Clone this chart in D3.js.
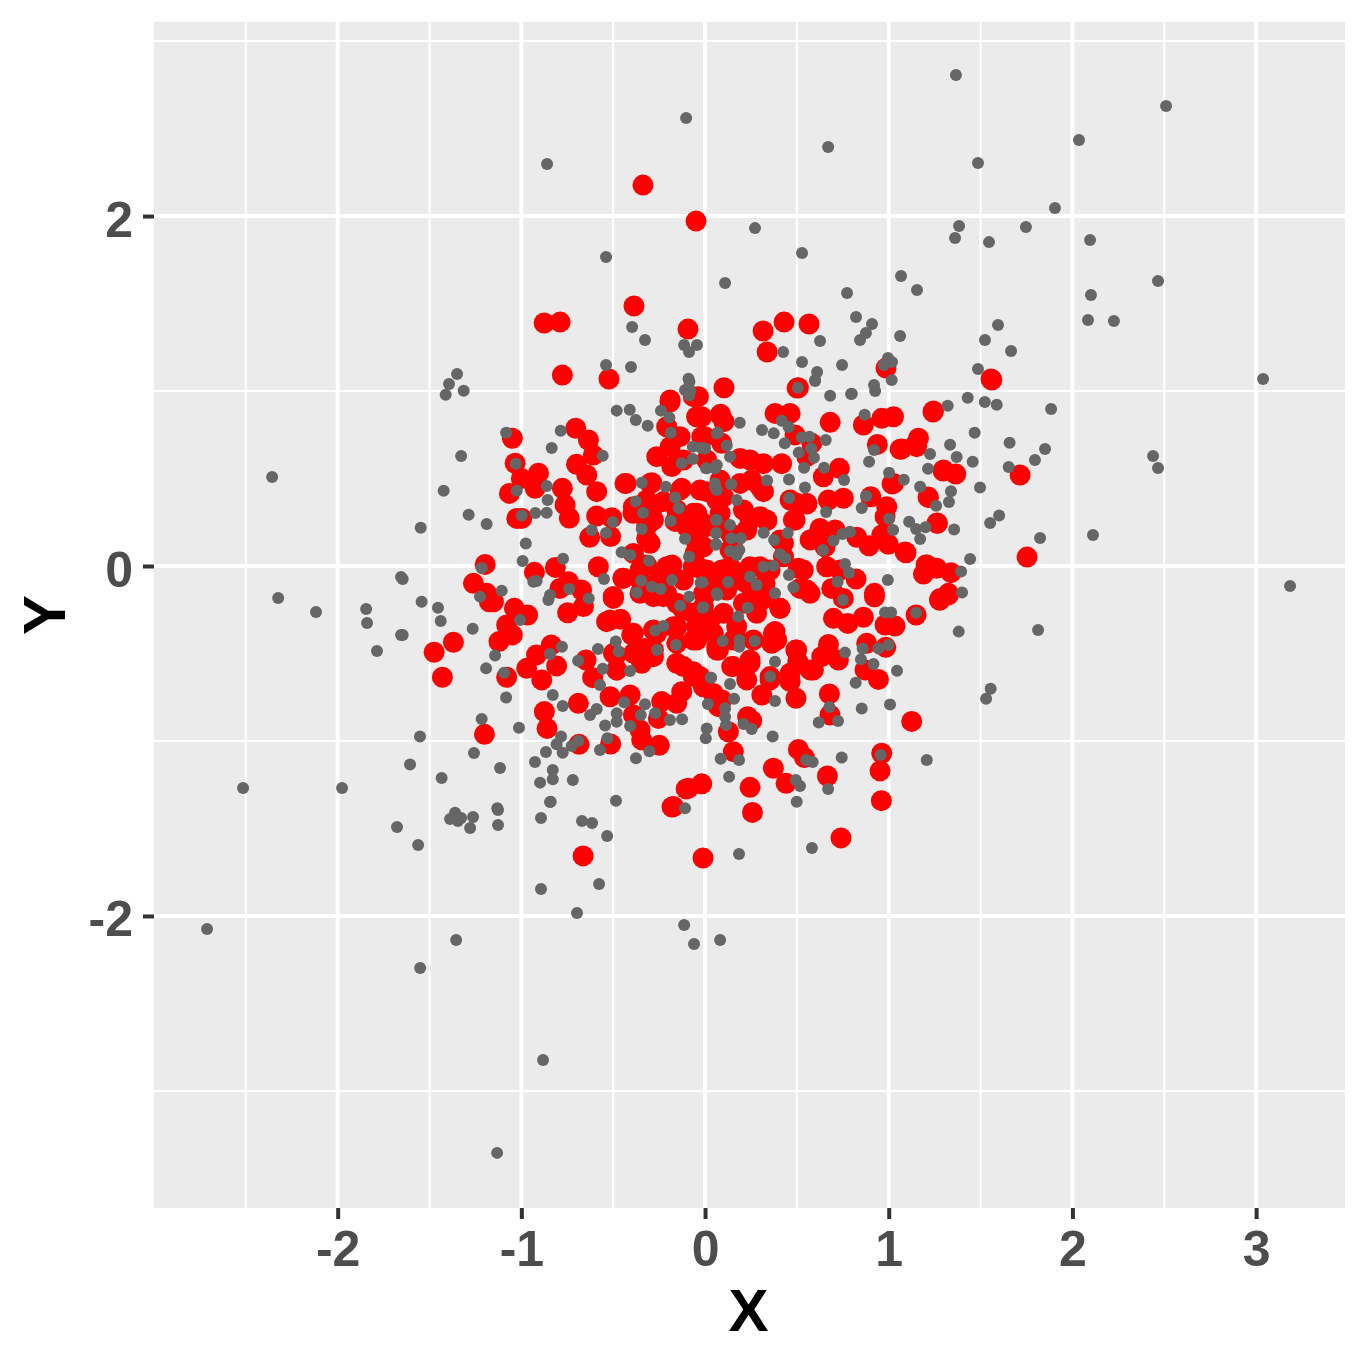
<!DOCTYPE html>
<html><head><meta charset="utf-8">
<script src="https://cdn.jsdelivr.net/npm/d3@7/dist/d3.min.js"></script>
<style>html,body{margin:0;padding:0;background:#fff}svg{display:block}</style>
</head><body><svg id="c" width="1368" height="1365"></svg>
<script>
const xMajor=[-2,-1,0,1,2,3];
const xMinor=[-2.5,-1.5,-0.5,0.5,1.5,2.5];
const yMajor=[-2,0,2];
const yMinor=[-3,-1,1,3];
const xTitle="X", yTitle="Y";
const redPoints=[[-0.777,1.091],[-0.523,1.069],[-1.049,0.73],[-1.034,0.587],[-0.907,0.53],[-1,0.5],[-1.065,0.415],[-0.925,0.444],[-0.704,0.787],[-0.635,0.72],[-0.608,0.634],[-0.7,0.581],[-0.644,0.52],[-0.59,0.425],[-0.777,0.444],[-0.762,0.349],[-0.739,0.274],[-1.025,0.272],[-0.998,0.272],[-0.59,0.286],[-0.508,0.276],[-0.628,0.164],[-0.514,0.168],[-1.197,0.009],[-0.929,-0.036],[-0.815,-0.008],[-0.744,-0.09],[-0.581,-0.004],[-0.672,-0.137],[-0.79,-0.128],[-1.261,-0.099],[-1.189,-0.156],[-1.152,-0.204],[-0.448,-0.07],[-0.5,-0.175],[-0.19,0.949],[-0.064,0.968],[-0.046,0.853],[-0.209,0.796],[0.082,0.863],[-0.263,0.625],[-0.19,0.682],[-0.136,0.739],[-0.018,0.739],[-0.181,0.568],[-0.118,0.606],[-0.43,0.472],[-0.29,0.476],[-0.127,0.444],[-0.318,0.377],[-0.227,0.368],[-0.392,0.301],[-0.281,0.263],[-0.318,0.158],[-0.163,0.255],[-0.064,0.301],[0.009,0.425],[-0.064,0.177],[-0.054,0.074],[-0.027,-0.013],[-0.39,0.072],[-0.318,0.006],[-0.18,0.006],[-0.245,-0.061],[-0.354,-0.08],[-0.118,-0.08],[0.064,-0.061],[-0.209,-0.156],[-0.354,-0.156],[0.009,-0.156],
[0.103,1.019],[0.508,1.019],[-0.036,0.968],[0.085,0.867],[0.103,0.825],[0.381,0.872],[0.463,0.872],[0.681,0.821],[1.561,1.063],[1.243,0.886],[0.862,0.806],[0.962,0.844],[1.026,0.853],[0.938,0.695],[1.062,0.667],[1.162,0.73],[1.152,0.682],[1.298,0.549],[1.365,0.526],[1.026,0.472],[1.216,0.392],[1.265,0.244],[1.715,0.52],[0.49,0.749],[0.581,0.701],[0.554,0.625],[-0.018,0.853],[0,0.739],[0.091,0.701],[0.009,0.606],[0.191,0.615],[0.245,0.606],[0.318,0.585],[0.417,0.585],[0.254,0.491],[0.318,0.425],[0.082,0.491],[0.1,0.396],[0.209,0.32],[0.299,0.282],[0.336,0.259],[0.463,0.377],[0.554,0.354],[0.49,0.263],[0.731,0.558],[0.644,0.51],[0.753,0.387],[0.671,0.377],[0.902,0.396],[0.989,0.339],[0.98,0.282],[0.626,0.215],[0.708,0.206],[0.581,0.152],[0.826,0.164],[0.893,0.116],[0.998,0.124],[1.094,0.076],[0.962,0.177],[1.207,0.006],[1.189,-0.046],[1.261,-0.013],[1.339,-0.038],[1.325,-0.156],[1.28,-0.185],[0.922,-0.156],[0.822,-0.074],[0.662,-0.004],[0.735,-0.023],[0.653,0.11],[0.508,-0.013],[0.517,-0.128],[0.69,-0.128],[0.427,0.13],[0.427,0.053],[0.299,-0.004],[0.327,-0.099],[0.154,0.149],[0.091,-0.023],[0.009,-0.023],[0.191,-0.08],[0.118,-0.137],[-0.009,-0.156],[0.082,0.244],[-0.009,0.244],[-0.009,0.11],[0.263,-0.156],[0.336,-0.156],
[-1.174,-0.204],[-1.038,-0.242],[-0.966,-0.28],[-1.08,-0.337],[-1.049,-0.394],[-1.122,-0.432],[-1.37,-0.436],[-1.475,-0.493],[-1.43,-0.636],[-1.08,-0.636],[-0.971,-0.585],[-0.918,-0.508],[-0.837,-0.451],[-0.808,-0.571],[-0.889,-0.651],[-0.748,-0.267],[-0.662,-0.232],[-0.499,-0.185],[-0.536,-0.318],[-0.459,-0.305],[-0.648,-0.537],[-0.612,-0.638],[-0.484,-0.509],[-0.481,-0.594],[-0.399,-0.394],[-0.345,-0.556],[-0.327,-0.471],[-0.517,-0.747],[-0.408,-0.737],[-0.69,-0.785],[-0.875,-0.832],[-0.86,-0.928],[-1.201,-0.962],[-0.686,-1.019],[-0.514,-1.017],[-0.39,-0.851],[-0.354,-0.937],[-0.345,-0.994],[-0.249,-1.025],[-0.254,-0.871],[-0.236,-0.775],[-0.154,-0.785],[-0.127,-0.718],[-0.064,-0.604],[-0.154,-0.556],[-0.263,-0.385],[-0.281,-0.518],[-0.154,-0.347],[-0.064,-0.423],[0.064,-0.461],[0.027,-0.308],[-0.064,-0.27],[-0.154,-0.213],[-0.281,-0.175],[-0.027,-0.632],[0.045,-0.728],[0.073,-0.804],[-0.018,-1.245],[-0.091,-1.27],[-0.172,-1.375],
[0.922,-0.176],[1.276,-0.194],[1.325,-0.165],[1.149,-0.28],[0.862,-0.293],[1.034,-0.343],[0.98,-0.337],[0.777,-0.328],[0.699,-0.299],[0.753,-0.185],[0.672,-0.448],[0.88,-0.442],[0.984,-0.465],[0.726,-0.537],[0.635,-0.518],[0.871,-0.594],[0.944,-0.648],[0.59,-0.594],[0.494,-0.48],[0.505,-0.547],[0.677,-0.731],[0.68,-0.851],[0.495,-0.756],[0.463,-0.661],[0.381,-0.375],[0.363,-0.442],[0.408,-0.242],[0.309,-0.194],[0.572,-0.156],[1.125,-0.888],[0.309,-0.737],[0.354,-0.651],[0.227,-0.651],[0.245,-0.537],[0.145,-0.575],[0.073,-0.48],[0.172,-0.423],[0.091,-0.766],[0.054,-0.748],[-0.009,-0.69],[0.127,-0.947],[0.232,-0.861],[0.254,-0.884],[0.154,-1.061],[0.508,-1.048],[0.541,-1.095],[0.372,-1.156],[0.441,-1.242],[0.666,-1.2],[0.962,-1.07],[0.953,-1.171],[0.96,-1.341],[0.245,-1.265],[0.258,-1.408],
[-0.338,2.177],[-0.049,1.971],[-0.387,1.486],[-0.876,1.389],[-0.789,1.394],[-0.093,1.354],[0.316,1.343],[0.43,1.394],[0.566,1.383],[0.338,1.223],[1.557,1.069],[0.985,1.131],[0.501,1.017],[1.753,0.051],[-0.191,0.937],[1.241,0.88],[-0.18,-1.377],[-0.103,-1.274],[-0.011,-1.669],[-0.664,-1.657],[0.74,-1.554],[1.296,0.543],[1.071,0.669],[1.143,0.691],[1.263,0.246],[1.214,0.394],[1.018,0.469],[1.089,0.08],[1.203,0.006],[1.279,-0.194],
[-0.436,0.472],[-0.299,0.472],[-0.136,0.434],[-0.027,0.434],[0.064,0.377],[0.191,0.472],[0.299,0.453],[0.499,0.358],[0.554,0.358],[-0.39,0.339],[-0.281,0.339],[-0.154,0.32],[-0.045,0.301],[0.082,0.301],[0.245,0.263],[0.336,0.263],[0.481,0.263],[-0.318,0.225],[-0.1,0.225],[0.009,0.225],[0.136,0.187],[0.227,0.206],[-0.299,0.13],[-0.045,0.13],[0.136,0.091],[0.408,0.149],[0.572,0.149],[-0.354,-0.023],[-0.445,-0.07],[-0.209,-0.004],[-0.064,-0.004],[0.136,-0.004],[0.245,-0.004],[0.354,-0.023],[0.535,-0.023],[0.554,-0.137],[-0.499,-0.175],[-0.299,-0.137],[-0.227,-0.175],[0.1,-0.099],[0.227,-0.099],[0.336,-0.175],[0.408,-0.242],[-0.118,-0.251],[-0.009,-0.232],[0.1,-0.27],[0.209,-0.213],[0.281,-0.27],[-0.517,-0.309],[-0.39,-0.385],[-0.281,-0.366],[-0.172,-0.347],[-0.045,-0.347],[0.045,-0.385],[0.172,-0.347],[0.372,-0.385],[-0.39,-0.499],[-0.281,-0.48],[-0.154,-0.442],[-0.045,-0.423],[0.064,-0.48],[0.154,-0.423],[0.263,-0.423],[0.39,-0.423],[0.499,-0.48],[-0.336,-0.537],[-0.118,-0.575],[0.154,-0.575],[0.245,-0.556],[0.354,-0.632],[0.463,-0.613],[0.572,-0.594],[-0.499,-0.499],[-0.481,-0.594],[-0.064,-0.632]];
const grayPoints=[[-1.394,1.04],[-1.412,0.979],[-1.314,1.002],[-1.083,0.762],[-1.328,0.629],[-1.031,0.585],[-0.835,0.674],[-0.786,0.773],[-0.557,0.63],[-0.481,0.888],[-0.41,0.893],[-0.377,0.834],[-0.312,0.802],[-0.24,0.888],[-0.194,0.848],[-0.187,0.762],[-0.109,1.006],[-0.087,0.975],[-0.085,1.053],[-1.423,0.43],[-1.025,0.43],[-0.862,0.457],[-0.857,0.377],[-1.287,0.293],[-1.189,0.24],[-0.998,0.288],[-0.924,0.303],[-0.862,0.305],[-1.548,0.219],[-0.976,0.128],[-0.993,0.029],[-1.216,-0.011],[-0.773,0.042],[-1.646,-0.074],[-1.107,-0.141],[-0.935,-0.09],[-0.917,-0.086],[-0.55,-0.074],[-0.74,-0.131],[-1.225,-0.175],[-0.844,-0.166],[-0.633,-0.185],[-1.543,-0.204],
[-0.067,0.682],[-0.022,0.676],[-0.067,0.611],[-0.127,0.587],[0.009,0.558],[0.054,0.558],[0.054,0.472],[0.063,0.434],[0.064,0.758],[-0.345,0.476],[-0.214,0.453],[-0.163,0.392],[-0.143,0.33],[-0.377,0.368],[-0.338,0.305],[-0.187,0.257],[-0.345,0.211],[-0.109,0.156],[-0.087,0.053],[0.06,0.263],[0.06,0.187],[0.06,0.126],[-0.503,0.251],[-0.539,0.189],[-0.617,0.206],[-0.454,0.078],[-0.408,0.063],[-0.305,0.03],[-0.348,-0.084],[-0.29,-0.118],[-0.241,-0.131],[-0.18,-0.08],[-0.024,-0.095],[-0.372,-0.152],[-0.087,-0.175],[0.064,-0.156],
[0.505,1.019],[0.599,1.057],[0.681,0.973],[0.799,0.985],[0.92,1.034],[0.926,1],[1.016,1.063],[1.43,0.962],[1.523,0.937],[1.588,0.922],[1.321,0.916],[0.869,0.865],[1.468,0.762],[1.658,0.705],[0.189,0.819],[0.31,0.777],[0.374,0.758],[0.417,0.83],[0.455,0.794],[0.434,0.701],[0.526,0.735],[0.568,0.739],[0.657,0.72],[0.51,0.648],[0.577,0.672],[0.593,0.619],[0.539,0.562],[0.648,0.562],[0.757,0.491],[0.457,0.495],[0.544,0.448],[0.069,0.762],[0.118,0.688],[0.136,0.625],[0,0.672],[0.005,0.558],[0.064,0.577],[0.142,0.467],[0.054,0.453],[0.172,0.377],[0.338,0.488],[0.893,0.596],[0.92,0.663],[1.002,0.533],[1.082,0.493],[1.225,0.64],[1.334,0.693],[1.37,0.623],[1.457,0.596],[1.214,0.556],[1.653,0.566],[1.497,0.448],[1.171,0.453],[1.339,0.427],[1.328,0.366],[1.258,0.345],[0.877,0.4],[0.853,0.331],[0.659,0.309],[0.457,0.389],[1.002,0.27],[1.024,0.206],[1.111,0.253],[1.149,0.211],[1.2,0.221],[1.171,0.154],[1.356,0.208],[1.552,0.246],[1.601,0.288],[0.064,0.263],[0.136,0.234],[0.06,0.189],[0.058,0.122],[0.142,0.158],[0.194,0.158],[0.136,0.086],[0.187,0.091],[0.172,0.063],[0.319,0.19],[0.376,0.149],[0.45,0.189],[0.408,0.067],[0.437,0.044],[0.318,-0.004],[0.372,0.002],[0.457,-0.051],[0.481,-0.122],[0.245,-0.061],[0.281,-0.109],[0.125,-0.091],[-0.015,-0.093],[0.067,-0.166],[0.381,-0.156],[0.789,0.196],[0.748,0.183],[0.699,0.145],[0.642,0.091],[0.762,0.011],[0.784,-0.038],[0.722,-0.09],[0.995,-0.08],[0.75,-0.194],[1.443,0.04],[1.394,-0.032],[1.399,-0.152],
[-1.454,-0.238],[-1.439,-0.314],[-1.265,-0.358],[-1.646,-0.394],[-1.007,-0.309],[-0.853,-0.194],[-1.143,-0.512],[-1.192,-0.585],[-1.094,-0.61],[-1.083,-0.752],[-0.844,-0.503],[-0.779,-0.461],[-0.691,-0.541],[-0.583,-0.474],[-0.557,-0.587],[-0.572,-0.68],[-0.486,-0.432],[-0.47,-0.489],[-0.408,-0.6],[-0.136,-0.227],[-0.013,-0.238],[-0.272,-0.369],[-0.227,-0.343],[-0.158,-0.451],[-0.261,-0.48],[0.031,-0.638],[0.015,-0.789],[-0.829,-0.737],[-0.775,-0.8],[-0.441,-0.779],[-0.59,-0.817],[-0.626,-0.851],[-0.327,-0.79],[-0.272,-0.842],[-0.35,-0.851],[-0.481,-0.842],[-0.481,-0.89],[-0.544,-0.912],[-0.408,-0.914],[-0.191,-0.88],[-0.125,-0.876],[0.009,-0.928],[0.004,-0.985],[-1.216,-0.874],[-1.013,-0.924],[-1.552,-0.975],[-1.258,-1.069],[-1.606,-1.135],[-1.434,-1.211],[-1.116,-1.154],[-0.926,-1.12],[-0.866,-1.063],[-0.808,-1.019],[-0.784,-0.975],[-0.775,-1.067],[-0.726,-1.029],[-0.69,-0.998],[-0.572,-1.051],[-0.532,-0.985],[-0.376,-1.099],[-0.303,-1.059],[-0.829,-1.166],[-0.829,-1.219],[-0.898,-1.238],[-0.72,-1.223],[-0.84,-1.347],[-0.485,-1.341],[-1.131,-1.385],[-1.361,-1.41],[-0.109,-1.385],
[-0.009,-0.236],[0.232,-0.238],[0.18,-0.289],[0.98,-0.265],[1.013,-0.265],[1.149,-0.267],[1.381,-0.375],[0.096,-0.429],[0.187,-0.423],[0.187,-0.461],[0.27,-0.429],[0.762,-0.495],[0.858,-0.471],[0.849,-0.533],[0.944,-0.471],[0.998,-0.451],[0.917,-0.56],[1.045,-0.598],[0.82,-0.667],[0.381,-0.547],[0.354,-0.632],[0.033,-0.638],[0.136,-0.674],[0.158,-0.758],[0.109,-0.813],[0.109,-0.861],[0.114,-0.909],[0.381,-0.771],[0.853,-0.815],[1.007,-0.792],[0.677,-0.806],[0.619,-0.895],[0.724,-0.886],[1.555,-0.701],[1.53,-0.758],[0.209,-0.903],[0.254,-0.931],[0.368,-0.975],[0.085,-1.101],[0.185,-1.109],[0.131,-1.204],[0.744,-1.095],[0.956,-1.08],[1.207,-1.109],[0.55,-1.109],[0.586,-1.12],[0.494,-1.223],[0.517,-1.257],[0.67,-1.274],[0.499,-1.347],
[1.366,2.806],[2.51,2.629],[-0.103,2.56],[0.67,2.394],[2.036,2.434],[-0.86,2.297],[1.486,2.303],[1.905,2.046],[1.383,1.943],[1.361,1.874],[0.272,1.931],[1.747,1.937],[2.096,1.863],[1.546,1.851],[-0.539,1.766],[0.528,1.789],[0.109,1.617],[1.067,1.657],[1.154,1.577],[2.466,1.629],[2.101,1.549],[0.773,1.56],[0.822,1.423],[2.085,1.406],[2.226,1.4],[0.909,1.383],[1.595,1.377],[0.876,1.331],[0.844,1.291],[1.062,1.314],[1.524,1.291],[-0.397,1.366],[-0.327,1.291],[-0.114,1.263],[-0.044,1.263],[-0.087,1.223],[0.626,1.286],[1.666,1.229],[0.425,1.223],[0.528,1.166],[-0.539,1.149],[0.746,1.149],[-0.403,1.137],[0.996,1.189],[0.974,1.149],[1.018,1.166],[-1.35,1.097],[0.61,1.109],[0.599,1.063],[1.486,1.126],[3.038,1.069],[0.795,0.983],[-0.09,1.07],[-0.08,1],[1.884,0.897],[1.851,0.669],[1.796,0.606],[2.439,0.629],[2.466,0.56],[-2.357,0.509],[1.824,0.16],[2.112,0.177],[3.185,-0.114],[1.813,-0.366],[-2.324,-0.183],[-2.118,-0.263],[-1.845,-0.246],[-1.84,-0.326],[-1.786,-0.486],[-1.655,-0.063],[-1.655,-0.394],[-2.515,-1.269],[-1.976,-1.269],[-1.677,-1.491],[-1.562,-1.594],[-1.388,-1.446],[-1.361,-1.423],[-1.328,-1.44],[-1.345,-1.457],[-1.263,-1.434],[-1.279,-1.497],[-1.127,-1.394],[-1.127,-1.48],[-0.893,-1.44],[-0.844,-1.349],[-0.67,-1.457],[-0.615,-1.469],[-0.533,-1.543],[-0.893,-1.846],[-0.577,-1.817],[-0.697,-1.983],[0.185,-1.646],[0.582,-1.611],[-0.114,-2.051],[-0.06,-2.16],[0.082,-2.137],[-2.711,-2.074],[-1.355,-2.137],[-1.551,-2.297],[-0.882,-2.823],[-1.132,-3.354]];

const L=154,R=1345,T=22,B=1208;
const x=d3.scaleLinear().domain([-3.0,3.484]).range([L,R]);
const y=d3.scaleLinear().domain([-3.669,3.109]).range([B,T]);
const svg=d3.select("#c");
svg.append("rect").attr("x",L).attr("y",T).attr("width",R-L).attr("height",B-T).attr("fill","#EBEBEB");
const grid=svg.append("g").attr("stroke","#fff");
grid.selectAll(".vm").data(xMinor).join("line").attr("x1",x).attr("x2",x).attr("y1",T).attr("y2",B).attr("stroke-width",2);
grid.selectAll(".hm").data(yMinor).join("line").attr("y1",y).attr("y2",y).attr("x1",L).attr("x2",R).attr("stroke-width",2);
grid.selectAll(".vM").data(xMajor).join("line").attr("x1",x).attr("x2",x).attr("y1",T).attr("y2",B).attr("stroke-width",4);
grid.selectAll(".hM").data(yMajor).join("line").attr("y1",y).attr("y2",y).attr("x1",L).attr("x2",R).attr("stroke-width",4);

svg.append("g").selectAll("circle").data(redPoints).join("circle")
 .attr("cx",d=>x(d[0])).attr("cy",d=>y(d[1])).attr("r",10.5).attr("fill","#FF0000");
svg.append("g").selectAll("circle").data(grayPoints).join("circle")
 .attr("cx",d=>x(d[0])).attr("cy",d=>y(d[1])).attr("r",6).attr("fill","#666666");

const font="'Liberation Sans',Arial,sans-serif";
const ax=svg.append("g").attr("transform",`translate(0,${B})`)
 .call(d3.axisBottom(x).tickValues(xMajor).tickSize(11).tickPadding(11).tickFormat(d3.format("d")));
const ay=svg.append("g").attr("transform",`translate(${L},0)`)
 .call(d3.axisLeft(y).tickValues(yMajor).tickSize(11).tickPadding(10).tickFormat(d3.format("d")));
[ax,ay].forEach(a=>{
 a.select(".domain").remove();
 a.selectAll("line").attr("stroke","#333333").attr("stroke-width",4);
 a.selectAll("text").attr("fill","#4D4D4D").attr("font-family",font).attr("font-weight","bold").attr("font-size",50).text(function(){return d3.select(this).text().replace("−","-");});
});
ay.selectAll("text").attr("dy","0.4em");
svg.append("text").attr("x",(L+R)/2-1).attr("y",1331).attr("text-anchor","middle").attr("font-family",font).attr("font-weight","bold").attr("font-size",60).attr("fill","#000").text(xTitle);
svg.append("text").attr("transform",`translate(65,${(T+B)/2}) rotate(-90)`).attr("text-anchor","middle").attr("font-family",font).attr("font-weight","bold").attr("font-size",60).attr("fill","#000").text(yTitle);
</script></body></html>
